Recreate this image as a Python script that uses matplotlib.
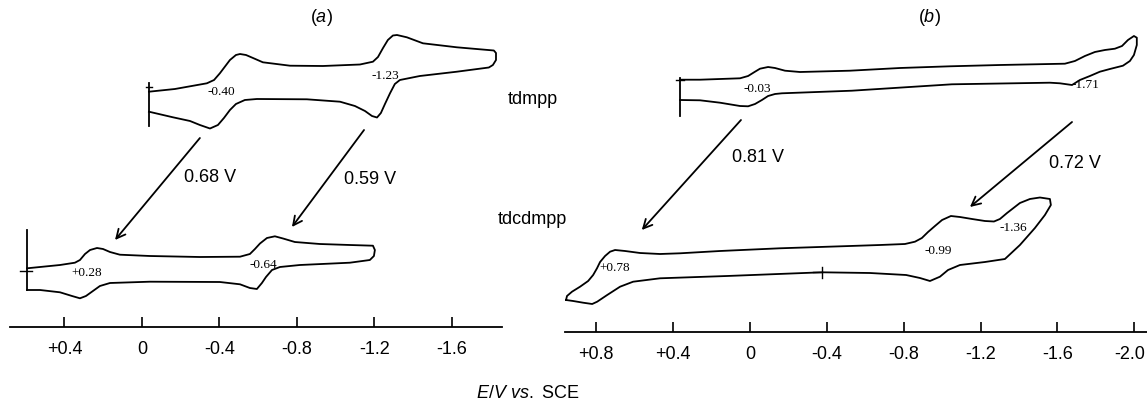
import matplotlib.pyplot as plt
from matplotlib.transforms import ScaledTranslation

plt.rcParams['font.family'] = ['Liberation Sans', 'DejaVu Sans']
plt.rcParams['mathtext.fontset'] = 'custom'
plt.rcParams['mathtext.rm'] = 'Liberation Sans'
plt.rcParams['mathtext.it'] = 'Liberation Sans:italic'

# ---- (a) tdmpp: E (V vs SCE) and current (arb. units), one closed sweep
a_top_E = [-0.036, -0.170, -0.335, -0.372, -0.402, -0.454, -0.485, -0.506, -0.537, -0.573,
           -0.624, -0.764, -0.934, -1.125, -1.192, -1.218, -1.244, -1.269, -1.295, -1.316,
           -1.367, -1.450, -1.625, -1.816, -1.827, -1.827, -1.811, -1.790, -1.625, -1.434,
           -1.331, -1.305, -1.280, -1.254, -1.233, -1.213, -1.187, -1.151, -1.099, -1.022,
           -0.851, -0.593, -0.531, -0.485, -0.454, -0.423, -0.392, -0.351, -0.299, -0.248,
           -0.160, -0.036]
a_top_i = [235.3, 238, 243.7, 247, 253.7, 267, 272, 273, 272, 269,
           264.7, 261.3, 261, 262.5, 265.3, 270, 279, 287, 291.5, 292,
           289.7, 283.7, 279.7, 276.5, 274, 267, 262, 259.5, 255.3, 251,
           247, 243, 233.7, 223, 214, 209.5, 211, 216, 221, 225.3,
           227.7, 228, 227, 223, 217, 209, 202, 198.5, 202, 206,
           209.7, 215.3]

# ---- (a) tdcdmpp
a_bot_E = [0.593, 0.423, 0.346, 0.320, 0.294, 0.268, 0.232, 0.201, 0.165, 0.114,
           -0.041, -0.299, -0.506, -0.557, -0.583, -0.609, -0.645, -0.686, -0.728, -0.789,
           -0.918, -1.073, -1.192, -1.202, -1.197, -1.176, -1.073, -0.815, -0.712, -0.671,
           -0.640, -0.619, -0.593, -0.557, -0.506, -0.402, -0.041, 0.165, 0.217, 0.253,
           0.289, 0.320, 0.361, 0.423, 0.526, 0.593]
a_bot_i = [58.7, 62, 64.3, 67, 73, 77, 79, 78, 75, 72.3,
           71, 70, 70.3, 73, 78, 83.5, 89, 90.7, 88.5, 85,
           83, 82, 81.3, 77, 71, 67, 64.3, 62, 60, 57,
           50, 44, 38, 39, 42.7, 45, 45.3, 44, 41, 36,
           31, 28.7, 31, 34.7, 37, 37]

# ---- (b) tdmpp
b_top_E = [0.363, 0.259, 0.051, 0.009, -0.027, -0.053, -0.095, -0.131, -0.183, -0.261,
           -0.521, -0.781, -1.041, -1.301, -1.561, -1.639, -1.691, -1.743, -1.795, -1.847,
           -1.899, -1.936, -1.967, -1.998, -2.013, -2.013, -1.998, -1.977, -1.941, -1.873,
           -1.821, -1.769, -1.717, -1.676, -1.613, -1.561, -1.051, -0.531, -0.167, -0.131,
           -0.095, -0.063, -0.027, 0.009, 0.051, 0.155, 0.259, 0.363]
b_top_i = [252.3, 252.3, 253.7, 256, 260.3, 263.3, 265, 264, 261.3, 260,
           261.3, 264, 265.7, 267, 268, 268.3, 271, 276, 280, 282,
           283.3, 286, 292, 296, 294.3, 287, 277, 271, 266.3, 263,
           260.3, 256, 252, 247, 248.7, 249.3, 247.7, 241.3, 238.7, 238,
           236, 232, 228, 225.7, 226, 229.3, 231.7, 232]

# ---- (b) tdcdmpp
b_bot_E = [0.956, 0.951, 0.925, 0.883, 0.841, 0.815, 0.795, 0.779, 0.753, 0.727,
           0.701, 0.649, 0.571, 0.467, 0.363, 0.155, -0.155, -0.521, -0.677, -0.807,
           -0.859, -0.895, -0.927, -0.963, -1.000, -1.046, -1.093, -1.156, -1.223, -1.270,
           -1.301, -1.338, -1.405, -1.457, -1.509, -1.561, -1.566, -1.535, -1.483, -1.405,
           -1.327, -1.223, -1.093, -1.031, -0.989, -0.937, -0.885, -0.813, -0.625, -0.375,
           0.119, 0.467, 0.607, 0.675, 0.742, 0.794, 0.820, 0.867, 0.919, 0.956]
b_bot_i = [32, 36, 40.3, 45.3, 51, 57, 63.7, 70, 76, 80.3,
           82, 81, 79, 78, 78.7, 81, 83.7, 86, 87, 88,
           90.3, 94, 100, 106, 112, 116, 115, 113, 111, 110.5,
           113, 119, 129, 133, 134.5, 133, 127, 117, 104, 87,
           73, 70, 67, 62, 55.3, 51, 54, 57, 59, 59.7,
           56, 53.7, 50.3, 45.3, 37, 30.3, 28, 29.3, 31, 32]

# half-wave potentials written on the curves
a_half_labels = ['-0.40', '-1.23', '+0.28', '-0.64']
b_half_labels = ['-0.03', '-1.71', '+0.78', '-0.99', '-1.36']
a_shift_labels = ['0.68 V', '0.59 V']
b_shift_labels = ['0.81 V', '0.72 V']

a_ticks = [0.4, 0, -0.4, -0.8, -1.2, -1.6]
a_ticklabels = ['+0.4', '0', '-0.4', '-0.8', '-1.2', '-1.6']
b_ticks = [0.8, 0.4, 0, -0.4, -0.8, -1.2, -1.6, -2.0]
b_ticklabels = ['+0.8', '+0.4', '0', '-0.4', '-0.8', '-1.2', '-1.6', '-2.0']

W, H = 1147, 407
fig = plt.figure(figsize=(W / 100, H / 100), dpi=100)

# axes placed in pixel terms: left, right, axis-line row
axa = fig.add_axes([10 / W, 1 - 327 / H, 492 / W, 327 / H])
axb = fig.add_axes([564.5 / W, 1 - 332 / H, (W - 564.5) / W, 332 / H])
axa.set_xlim(0.681, -1.858)
axa.set_ylim(0, 327)
axb.set_xlim(0.964, -2.066)
axb.set_ylim(0, 332)

lw = 1.3
for ax, ticks, labels in [(axa, a_ticks, a_ticklabels), (axb, b_ticks, b_ticklabels)]:
    ax.patch.set_alpha(0)
    for s in ['top', 'left', 'right']:
        ax.spines[s].set_visible(False)
    ax.spines['bottom'].set_linewidth(1.3)
    ax.set_yticks([])
    ax.set_xticks(ticks)
    ax.set_xticklabels(labels)
    ax.tick_params(axis='x', direction='in', length=7, width=1.2, labelsize=13, pad=10)

# last label of (b) sits at the right edge, nudge it in a little
last = axb.xaxis.get_major_ticks()[-1].label1
last.set_transform(last.get_transform() + ScaledTranslation(-5 / 100, 0, fig.dpi_scale_trans))

# traces
axa.plot(a_top_E, a_top_i, color='black', lw=lw)
axa.plot(a_bot_E, a_bot_i, color='black', lw=lw)
axb.plot(b_top_E, b_top_i, color='black', lw=lw)
axb.plot(b_bot_E, b_bot_i, color='black', lw=lw)

# start markers
axa.plot([-0.036, -0.036], [244, 201], color='black', lw=lw)
axa.plot([-0.021, -0.052], [240, 240], color='black', lw=1.0)
axa.plot([0.593, 0.593], [97, 37], color='black', lw=lw)
axa.plot([0.630, 0.568], [56, 56], color='black', lw=1.0)
axb.plot([0.363, 0.363], [254, 216], color='black', lw=lw)
axb.plot([0.384, 0.342], [252, 252], color='black', lw=1.0)
axb.plot([-0.375, -0.375], [65, 54], color='black', lw=1.0)
axb.plot([-0.33, -0.375], [59.7, 59.7], color='black', lw=1.0)

# half-wave potential labels
lab = dict(fontsize=9.5, family='Liberation Serif', ha='center', va='center')
for t, (x, y) in zip(a_half_labels, [(-0.408, 235), (-1.254, 251), (0.284, 54.5), (-0.624, 62)]):
    axa.text(x, y, t, **lab)
for t, (x, y) in zip(b_half_labels, [(-0.037, 243), (-1.748, 247.5), (0.701, 64), (-0.979, 81), (-1.369, 104)]):
    axb.text(x, y, t, **lab)

# shift arrows
arw = dict(arrowstyle='->', lw=1.3, color='black', mutation_scale=16, shrinkA=0, shrinkB=0)
axa.annotate('', xy=(0.139, 87), xytext=(-0.299, 189), arrowprops=arw)
axa.annotate('', xy=(-0.774, 100), xytext=(-1.146, 197), arrowprops=arw)
axb.annotate('', xy=(0.562, 102), xytext=(0.046, 212), arrowprops=arw)
axb.annotate('', xy=(-1.145, 125), xytext=(-1.676, 210), arrowprops=arw)
axa.text(-0.351, 150, a_shift_labels[0], fontsize=13, ha='center', va='center')
axa.text(-1.176, 147, a_shift_labels[1], fontsize=13, ha='center', va='center')
axb.text(-0.043, 174, b_shift_labels[0], fontsize=13, ha='center', va='center')
axb.text(-1.691, 169, b_shift_labels[1], fontsize=13, ha='center', va='center')

# panel letters
axa.text(-0.924, 309, r'($\mathit{a}$)', fontsize=13, ha='center', va='center')
axb.text(-0.932, 314, r'($\mathit{b}$)', fontsize=13, ha='center', va='center')

fig.text(533 / W, 1 - 99 / H, 'tdmpp', fontsize=13, ha='center', va='center')
fig.text(532 / W, 1 - 220 / H, 'tdcdmpp', fontsize=13, ha='center', va='center')
fig.text(528 / W, 1 - 393 / H, r'$\mathit{E/V\ vs.}$ SCE', fontsize=13, ha='center', va='center')

fig.savefig('out.png', dpi=100)
